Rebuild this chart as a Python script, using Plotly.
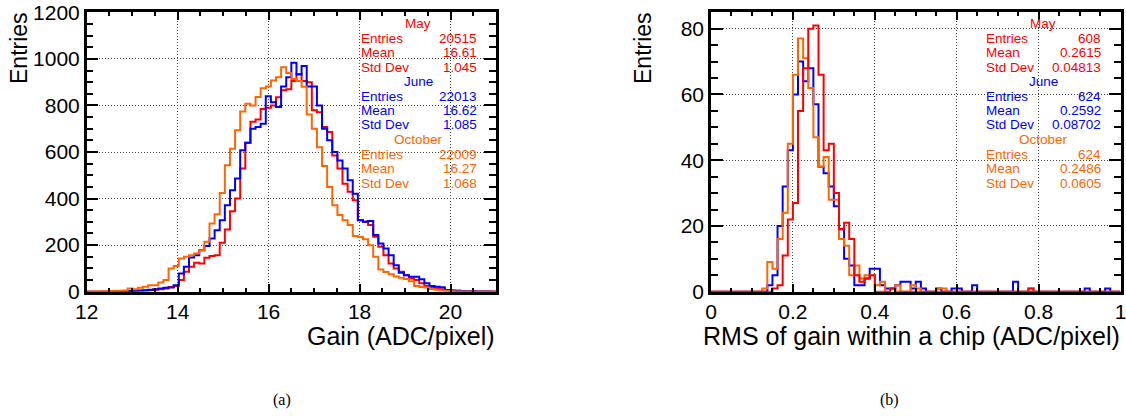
import plotly.graph_objects as go
import numpy as np

W, H = 1126, 416

# ---------------- data ----------------
series_names = ["May", "June", "October"]
series_colors = ["#ff0000", "#0000ff", "#ff6600"]

# (a) gain histograms: 80 bins from 12 to 21
gain_lo, gain_hi, gain_nbins = 12.0, 21.0, 80
gain_may = [0, 0, 0, 0, 1, 1, 2, 2, 3, 3, 4, 5, 6, 8, 10, 14, 20, 25,
            50, 86, 107, 124, 121, 146, 153, 157, 210, 267, 346, 400, 529, 640,
            730, 740, 785, 790, 800, 835, 865, 870, 905, 935, 905, 900, 779, 771, 707, 686,
            585, 529, 464, 429, 393, 307, 300, 286, 236, 193, 157, 121, 100, 86, 71, 57,
            50, 36, 24, 19, 14, 10, 7, 5, 4, 3, 2, 2, 1, 1, 1, 1]
gain_june = [0, 0, 0, 0, 0, 1, 1, 2, 3, 4, 5, 6, 8, 10, 14, 17, 18, 28,
             78, 107, 147, 157, 178, 196, 228, 264, 307, 371, 436, 486, 607, 640,
             700, 707, 721, 839, 814, 793, 881, 921, 983, 933, 969, 881, 881, 800, 700, 650,
             600, 564, 529, 479, 421, 307, 300, 304, 243, 207, 186, 157, 114, 81, 71, 64,
             64, 53, 36, 24, 21, 19, 7, 5, 4, 3, 2, 2, 1, 1, 1, 0]
gain_oct = [1, 1, 1, 2, 3, 4, 4, 5, 14, 11, 17, 21, 28, 28, 40, 50, 100, 110,
            143, 150, 157, 164, 178, 214, 293, 333, 424, 543, 614, 693, 774, 807,
            800, 836, 874, 881, 907, 921, 964, 939, 914, 905, 880, 761, 700, 620, 540, 450,
            371, 329, 307, 286, 239, 235, 225, 200, 150, 95, 85, 75, 65, 60, 55, 45,
            25, 20, 18, 12, 8, 5, 3, 2, 1, 1, 1, 0, 0, 0, 0, 0]

# (b) RMS histograms: 80 bins from 0 to 1
rms_lo, rms_hi, rms_nbins = 0.0, 1.0, 80
rms_may = [0, 0, 0, 0, 0, 0, 0, 0, 0, 0, 0, 0, 1, 2, 11, 22,
           27, 55, 68, 80, 81, 66, 43, 45, 30, 19, 21, 16, 5, 3, 4, 5,
           0, 0, 0, 1, 0, 0, 0, 0, 0, 0, 0, 0, 0, 0, 0, 0,
           0, 0, 0, 0, 0, 0, 0, 0, 0, 0, 0, 0, 0, 0, 1, 0,
           0, 0, 0, 0, 0, 0, 0, 0, 0, 0, 0, 0, 0, 0, 0, 0]
rms_june = [0, 0, 0, 0, 0, 0, 0, 0, 0, 0, 0, 2, 5, 20, 32, 43,
            60, 70, 64, 68, 57, 38, 36, 32, 26, 19, 10, 8, 2, 2, 4, 7,
            7, 2, 1, 1, 2, 3, 3, 1, 3, 1, 0, 0, 1, 0, 0, 1,
            1, 0, 0, 2, 0, 0, 0, 0, 0, 0, 0, 3, 0, 0, 0, 0,
            0, 0, 0, 0, 0, 0, 0, 0, 0, 1, 0, 0, 0, 1, 0, 0]
rms_oct = [0, 0, 0, 0, 0, 0, 0, 0, 0, 0, 1, 9, 7, 16, 24, 45,
           66, 77, 71, 62, 47, 38, 41, 28, 28, 16, 14, 5, 8, 4, 5, 5,
           2, 3, 0, 1, 2, 0, 0, 2, 1, 0, 0, 0, 1, 1, 0, 0,
           0, 0, 0, 0, 0, 0, 0, 0, 0, 0, 0, 0, 0, 0, 1, 0,
           0, 0, 0, 0, 0, 0, 0, 0, 0, 0, 0, 0, 0, 0, 0, 0]

gain_entries = ["20515", "22013", "22009"]
gain_means = ["16.61", "16.62", "16.27"]
gain_stds = ["1.045", "1.085", "1.068"]
rms_entries = ["608", "624", "624"]
rms_means = ["0.2615", "0.2592", "0.2486"]
rms_stds = ["0.04813", "0.08702", "0.0605"]

gain_xticks = [12, 14, 16, 18, 20]
gain_yticks = [0, 200, 400, 600, 800, 1000, 1200]
rms_xticks = [0, 0.2, 0.4, 0.6, 0.8, 1.0]
rms_xticklabels = ["0", "0.2", "0.4", "0.6", "0.8", "1"]
rms_yticks = [0, 20, 40, 60, 80]

gain_xtitle = "Gain (ADC/pixel)"
rms_xtitle = "RMS of gain within a chip (ADC/pixel)"
ytitle = "Entries"
captions = ["(a)", "(b)"]

# ---------------- layout constants (pixels) ----------------
FONT = "Liberation Sans, Arial, Helvetica, sans-serif"
L_X0, L_X1 = 86.7, 496.0
R_X0, R_X1 = 711.0, 1120.5
Y_TOP, Y_BOT = 12.3, 291.7


def px(x):
    return x / W


def py(y):
    return 1 - y / H


fig = go.Figure()


def add_hist(counts, lo, hi, nb, color, xa, ya, name):
    edges = np.linspace(lo, hi, nb + 1)
    yv = list(counts) + [counts[-1]]
    fig.add_trace(go.Scatter(x=edges, y=yv, mode="lines", line_shape="hv",
                             line=dict(color=color, width=2), xaxis=xa, yaxis=ya,
                             name=name, showlegend=False, hoverinfo="skip",
                             cliponaxis=True))


for cts, col, nm in zip([gain_may, gain_june, gain_oct], series_colors, series_names):
    add_hist(cts, gain_lo, gain_hi, gain_nbins, col, "x", "y", nm)
for cts, col, nm in zip([rms_june, rms_oct, rms_may], [series_colors[1], series_colors[2], series_colors[0]],
                        ["June", "October", "May"]):
    add_hist(cts, rms_lo, rms_hi, rms_nbins, col, "x2", "y2", nm)

axis_common = dict(showline=True, linewidth=2.5, linecolor="black", mirror="ticks",
                   ticks="inside", tickcolor="black", tickwidth=1.5,
                   showgrid=True, gridcolor="#444444", gridwidth=1, griddash="1px,2px",
                   zeroline=False, ticklabeloverflow="allow",
                   tickfont=dict(family=FONT, size=21, color="black"))

fig.update_layout(
    width=W, height=H, margin=dict(l=0, r=0, t=0, b=0, autoexpand=False),
    paper_bgcolor="white", plot_bgcolor="white", showlegend=False,
    xaxis=dict(domain=[px(L_X0), px(L_X1)], range=[gain_lo, gain_hi], anchor="y",
               tickvals=gain_xticks, ticklen=8, ticklabelstandoff=-1,
               minor=dict(ticks="inside", ticklen=4, tickwidth=1.5, tickcolor="black",
                          dtick=0.5, tick0=12, showgrid=False), **axis_common),
    yaxis=dict(domain=[py(Y_BOT), py(Y_TOP)], range=[0, 1200], anchor="x",
               tickvals=gain_yticks, ticklen=12,
               minor=dict(ticks="inside", ticklen=7, tickwidth=1.5, tickcolor="black",
                          dtick=50, tick0=0, showgrid=False), **axis_common),
    xaxis2=dict(domain=[px(R_X0), px(R_X1)], range=[rms_lo, rms_hi], anchor="y2",
                tickvals=rms_xticks, ticktext=rms_xticklabels, ticklen=8, ticklabelstandoff=-1,
                minor=dict(ticks="inside", ticklen=4, tickwidth=1.5, tickcolor="black",
                           dtick=0.05, tick0=0, showgrid=False), **axis_common),
    yaxis2=dict(domain=[py(Y_BOT), py(Y_TOP)], range=[0, 85], anchor="x2",
                tickvals=rms_yticks, ticklen=12,
                minor=dict(ticks="inside", ticklen=7, tickwidth=1.5, tickcolor="black",
                           dtick=5, tick0=0, showgrid=False), **axis_common),
)

# stats boxes
box_defs = [
    dict(x0=355, x1=494, label_x=360, value_x=478, head_x=418,
         entries=gain_entries, means=gain_means, stds=gain_stds),
    dict(x0=978, x1=1118.5, label_x=985, value_x=1102, head_x=1043,
         entries=rms_entries, means=rms_means, stds=rms_stds),
]
ROW0, PITCH = 23.5, 14.5
annotations = []
shapes = []
for b in box_defs:
    shapes.append(dict(type="rect", xref="paper", yref="paper", layer="between",
                       x0=px(b["x0"]), x1=px(b["x1"]), y0=py(191), y1=py(14),
                       fillcolor="white", line=dict(width=0)))
    for k in range(3):
        col = series_colors[k]
        f = dict(family=FONT, size=13.5, color=col)
        r0 = ROW0 + PITCH * 4 * k
        annotations.append(dict(x=px(b["head_x"]), y=py(r0), xref="paper", yref="paper",
                                text=series_names[k], showarrow=False, font=f,
                                xanchor="center", yanchor="middle", borderpad=0))
        labels = ["Entries", "Mean", "Std Dev"]
        values = [b["entries"][k], b["means"][k], b["stds"][k]]
        for j, (lab, val) in enumerate(zip(labels, values)):
            yy = py(r0 + PITCH * (j + 1))
            annotations.append(dict(x=px(b["label_x"]), y=yy, xref="paper", yref="paper",
                                    text=lab, showarrow=False, font=f,
                                    xanchor="left", yanchor="middle", borderpad=0))
            annotations.append(dict(x=px(b["value_x"]), y=yy, xref="paper", yref="paper",
                                    text=val, showarrow=False, font=f,
                                    xanchor="right", yanchor="middle", borderpad=0))

# axis titles
tf = dict(family=FONT, size=25, color="black")
for xr, title in [(L_X1, gain_xtitle), (R_X1, rms_xtitle)]:
    annotations.append(dict(x=px(xr + 1), y=py(336), xref="paper", yref="paper", text=title,
                            showarrow=False, font=tf, xanchor="right", yanchor="middle"))
for xc in [19, 643]:
    annotations.append(dict(x=px(xc), y=py(48), xref="paper", yref="paper", text=ytitle,
                            showarrow=False, font=dict(family=FONT, size=23, color="black"),
                            textangle=-90, xanchor="center", yanchor="middle"))
for xc, cap in zip([282, 889], captions):
    annotations.append(dict(x=px(xc), y=py(400), xref="paper", yref="paper", text=cap,
                            showarrow=False,
                            font=dict(family="Liberation Serif, Times New Roman, serif", size=16, color="black"),
                            xanchor="center", yanchor="middle"))

fig.update_layout(annotations=annotations, shapes=shapes)
fig.write_html("out.html", config={"displayModeBar": False},
               post_script="document.body.style.margin='0px';document.body.style.padding='0px';"
                           "document.documentElement.style.overflow='hidden';")
